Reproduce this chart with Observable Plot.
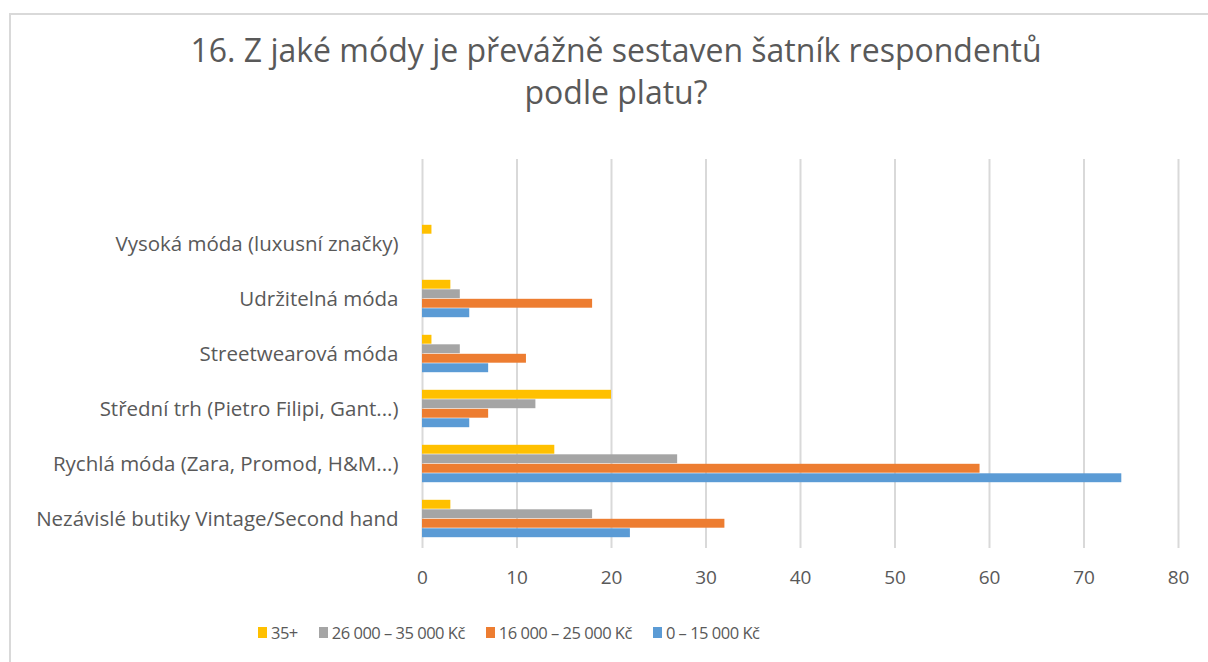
<!DOCTYPE html>
<html>
<head>
<meta charset="utf-8">
<script src="https://cdn.jsdelivr.net/npm/d3@7"></script>
<script src="https://cdn.jsdelivr.net/npm/@observablehq/plot@0.6"></script>
<style>
  html, body { margin: 0; padding: 0; background: #fff; overflow: hidden; }
  body { width: 1208px; height: 662px; position: relative; font-family: "Open Sans", Lato, sans-serif; color: #595959; }
  #frame { position: absolute; left: 9px; top: 13px; width: 1230px; height: 700px; border: 2px solid #d9d9d9; box-sizing: border-box; }
  #title { position: absolute; left: 0; width: 1232px; top: 29px; text-align: center; font-size: 32px; line-height: 42px; color: #595959; }
  #chart { position: absolute; left: 0; top: 140px; }
  #legend { position: absolute; left: 258px; top: 621px; display: flex; align-items: center; font-size: 16.5px; letter-spacing: -0.5px; color: #595959; }
  .item { display: flex; align-items: center; margin-right: 21px; }
  .sw { width: 9px; height: 11px; margin-right: 4px; }
</style>
</head>
<body>
<div id="frame"></div>
<div id="title">16. Z jaké módy je převážně sestaven šatník respondentů<br>podle platu?</div>
<div id="chart"></div>
<div id="legend"></div>
<script>
const categories = [
  "Vysoká móda (luxusní značky)",
  "Udržitelná móda",
  "Streetwearová móda",
  "Střední trh (Pietro Filipi, Gant...)",
  "Rychlá móda (Zara, Promod, H&M...)",
  "Nezávislé butiky Vintage/Second hand"
];
const series = ["35+", "26 000 – 35 000 Kč", "16 000 – 25 000 Kč", "0 – 15 000 Kč"];
const values35 = [1, 3, 1, 20, 14, 3];
const values26 = [0, 4, 4, 12, 27, 18];
const values16 = [0, 18, 11, 7, 59, 32];
const values0 = [0, 5, 7, 5, 74, 22];
const xTicks = [0, 10, 20, 30, 40, 50, 60, 70, 80];
const colors = ["#FFC000", "#A5A5A5", "#ED7D31", "#5B9BD5"];

const seriesValues = [values35, values26, values16, values0];
const rows = [];
series.forEach((s, i) => {
  categories.forEach((c, j) => rows.push({ series: s, category: c, value: seriesValues[i][j] }));
});

const W = 1208, H = 470;
const mTop = 19, mBottom = 62;
const yTop = 74.4, yBottom = H - mBottom;
const band = (yBottom - yTop) / categories.length;
const barH = 9.5;
const inset = (band - barH) / 2;
const offsets = [-1.5, -0.5, 0.5, 1.5].map(k => k * barH);

const marks = [
  Plot.gridX(xTicks, { stroke: "#d9d9d9", strokeOpacity: 1, strokeWidth: 2 }),
  ...series.map((s, i) => Plot.barX(rows.filter(d => d.series === s), {
    x: "value", y: "category", fill: "series",
    insetTop: inset, insetBottom: inset, dy: offsets[i]
  })),
  Plot.axisX({ ticks: xTicks, tickSize: 0, tickPadding: 22, fontSize: 19, fill: "#595959", label: null }),
  Plot.axisY({ tickSize: 0, tickPadding: 24, fontSize: 20.5, fill: "#595959", label: null })
];

const chart = Plot.plot({
  width: W, height: H,
  marginTop: mTop, marginBottom: mBottom, marginLeft: 422, marginRight: 30,
  style: { fontFamily: "'Open Sans', Lato, sans-serif", color: "#595959", background: "transparent" },
  x: { domain: [0, 80], axis: null },
  y: { domain: categories, range: [yTop, yBottom], padding: 0, axis: null },
  color: { domain: series, range: colors },
  marks
});
document.getElementById("chart").appendChild(chart);

const legend = document.getElementById("legend");
series.forEach((s, i) => {
  const it = document.createElement("div");
  it.className = "item";
  const sw = document.createElement("div");
  sw.className = "sw";
  sw.style.background = colors[i];
  const tx = document.createElement("span");
  tx.textContent = s;
  it.appendChild(sw); it.appendChild(tx);
  legend.appendChild(it);
});
</script>
</body>
</html>
